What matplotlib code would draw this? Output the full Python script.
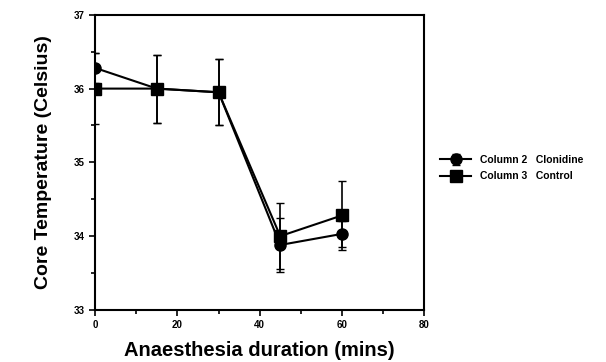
import numpy as np
import matplotlib
matplotlib.use('Agg')
import matplotlib.pyplot as plt
from matplotlib.ticker import MultipleLocator

# data
minutes = [0, 15, 30, 45, 60]
clonidine = [36.28, 36.0, 35.95, 33.88, 34.03]
clonidine_err = [0.2, 0.46, 0.45, 0.36, 0.18]
control = [36.0, 36.0, 35.95, 34.0, 34.28]
control_err = [0.48, 0.46, 0.45, 0.45, 0.47]

plt.rcParams['font.family'] = 'Liberation Sans'
fig = plt.figure(figsize=(6.06, 3.62), dpi=100)
ax = fig.add_axes([0.157, 0.144, 0.543, 0.815])

ax.errorbar(minutes, clonidine, yerr=clonidine_err, color='black', marker='o',
            markersize=8, lw=1.5, capsize=3, elinewidth=1.2,
            label='Column 2   Clonidine')
ax.errorbar(minutes, control, yerr=control_err, color='black', marker='s',
            markersize=8, lw=1.5, capsize=3, elinewidth=1.2,
            label='Column 3   Control')

ax.set_xlim(0, 80)
ax.set_ylim(33, 37)
ax.xaxis.set_major_locator(MultipleLocator(20))
ax.xaxis.set_minor_locator(MultipleLocator(10))
ax.yaxis.set_major_locator(MultipleLocator(1))
ax.yaxis.set_minor_locator(MultipleLocator(0.5))
ax.tick_params(which='both', direction='out', width=1.2)
ax.tick_params(which='major', length=4, labelsize=7)
ax.tick_params(which='minor', length=3)
for lab in ax.get_xticklabels() + ax.get_yticklabels():
    lab.set_fontweight('bold')
for s in ax.spines.values():
    s.set_linewidth(1.5)

ax.set_xlabel('Anaesthesia duration (mins)', fontsize=14.5, fontweight='bold', labelpad=8)
ax.set_ylabel('Core Temperature (Celsius)', fontsize=14, fontweight='bold', labelpad=16)

ax.legend(loc='center left', bbox_to_anchor=(1.02, 0.48), frameon=False,
          prop={'weight': 'bold', 'size': 7.5}, handlelength=3, labelspacing=0.6)

fig.savefig('out.png', dpi=100)
